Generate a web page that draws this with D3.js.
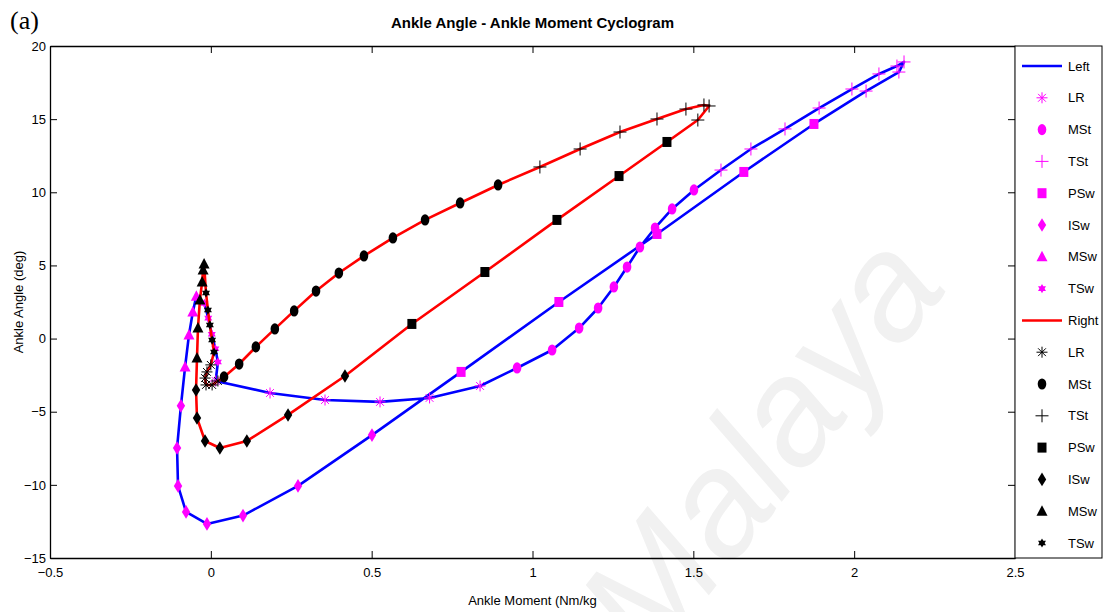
<!DOCTYPE html>
<html>
<head>
<meta charset="utf-8">
<script src="https://cdn.jsdelivr.net/npm/d3@7/dist/d3.min.js"></script>
<style>
  body { margin: 0; background: #fff; }
  text { font-family: "Liberation Sans Narrow", "Arial Narrow", "Liberation Sans", Arial, sans-serif; }
</style>
</head>
<body>
<svg id="chart" width="1105" height="612"></svg>
<script>
// gait phases, in cycle order
var phases = ['LR', 'MSt', 'TSt', 'PSw', 'ISw', 'MSw', 'TSw']

// left side: [moment (Nm/kg), angle (deg)]
var leftLR  = [[0.015, -2.9], [0.184, -3.72], [0.355, -4.2], [0.526, -4.33], [0.68, -4.06], [0.837, -3.24]]
var leftMSt = [[0.952, -2.01], [1.061, -0.78], [1.145, 0.72], [1.204, 2.09], [1.253, 3.53], [1.294, 4.89], [1.334, 6.26], [1.381, 7.56], [1.434, 8.86], [1.502, 10.16]]
var leftTSt = [[1.586, 11.52], [1.679, 12.96], [1.785, 14.33], [1.891, 15.76], [1.993, 17.06], [2.077, 18.09], [2.133, 18.63], [2.155, 18.91], [2.139, 18.22], [2.037, 16.92]]
var leftPSw = [[1.875, 14.67], [1.657, 11.39], [1.387, 7.15], [1.082, 2.5], [0.778, -2.28]]
var leftISw = [[0.501, -6.6], [0.271, -10.07], [0.10, -12.1], [-0.012, -12.67], [-0.077, -11.85], [-0.102, -10.07], [-0.105, -7.48], [-0.093, -4.6]]
var leftMSw = [[-0.08, -1.94], [-0.068, 0.25], [-0.056, 1.82], [-0.045, 2.9]]
var leftTSw = [[-0.02, 2.4], [-0.008, 1.4], [0.003, 0.3], [0.014, -0.7], [0.022, -1.6]]

// right side
var rightLR  = [[0.0, -1.8], [-0.012, -2.28], [-0.018, -2.7], [-0.015, -3.17], [0.004, -3.17], [0.022, -2.9]]
var rightMSt = [[0.041, -2.62], [0.088, -1.74], [0.140, -0.57], [0.199, 0.66], [0.259, 1.89], [0.327, 3.25], [0.398, 4.48], [0.476, 5.65], [0.566, 6.88], [0.666, 8.11], [0.775, 9.27], [0.893, 10.5]]
var rightTSt = [[1.023, 11.73], [1.148, 12.96], [1.272, 14.12], [1.387, 15.01], [1.477, 15.69], [1.533, 15.97], [1.549, 15.9], [1.514, 14.94]]
var rightPSw = [[1.418, 13.44], [1.269, 11.11], [1.076, 8.11], [0.852, 4.55], [0.625, 1.0]]
var rightISw = [[0.417, -2.56], [0.240, -5.22], [0.112, -7.0], [0.028, -7.48], [-0.018, -7.0], [-0.043, -5.43], [-0.046, -3.52]]
var rightMSw = [[-0.043, -1.33], [-0.040, 0.72], [-0.034, 2.64], [-0.027, 3.87], [-0.024, 4.69], [-0.021, 5.1]]
var rightTSw = [[-0.015, 3.12], [-0.009, 1.95], [-0.003, 0.93], [0.004, -0.1], [0.01, -0.92]]

var xTicks = [-0.5, 0, 0.5, 1, 1.5, 2, 2.5]
var yTicks = [-15, -10, -5, 0, 5, 10, 15, 20]

var leftPhases = [leftLR, leftMSt, leftTSt, leftPSw, leftISw, leftMSw, leftTSw]
var rightPhases = [rightLR, rightMSt, rightTSt, rightPSw, rightISw, rightMSw, rightTSw]
var markerTypes = ['asterisk', 'circle', 'plus', 'square', 'diamond', 'triangle', 'hexagram']

var blue = '#0000ff', red = '#ff0000', magenta = '#ff00ff'

var svg = d3.select('#chart')
var m = {left: 50, right: 90, top: 46, bottom: 54}
var width = 1105 - m.left - m.right
var height = 612 - m.top - m.bottom

// faint watermark behind everything
svg.append('text')
  .attr('transform', 'translate(652,668) rotate(-52)')
  .attr('font-size', 150)
  .attr('font-style', 'italic')
  .attr('fill', '#f1f1f1')
  .style('font-family', '"Liberation Sans", Arial, sans-serif')
  .text('Malaya')

var g = svg.append('g').attr('transform', `translate(${m.left},${m.top})`)

var x = d3.scaleLinear().domain([-0.5, 2.5]).range([0, width])
var y = d3.scaleLinear().domain([-15, 20]).range([height, 0])

function styleAxis(sel){
  sel.selectAll('path').attr('stroke', '#000').attr('stroke-width', 1.3)
  sel.selectAll('line').attr('stroke', '#000')
  sel.selectAll('text').attr('font-size', 13).attr('fill', '#000')
    .style('font-family', '"Liberation Sans Narrow", "Arial Narrow", "Liberation Sans", Arial, sans-serif')
}

g.append('g').attr('transform', `translate(0,${height})`)
  .call(d3.axisBottom(x).tickValues(xTicks).tickSizeInner(-7).tickSizeOuter(0).tickPadding(10).tickFormat(d3.format('')))
  .call(styleAxis)
g.append('g')
  .call(d3.axisTop(x).tickValues(xTicks).tickSizeInner(-7).tickSizeOuter(0).tickFormat(''))
  .call(styleAxis)
g.append('g')
  .call(d3.axisLeft(y).tickValues(yTicks).tickSizeInner(-7).tickSizeOuter(0).tickPadding(4))
  .call(styleAxis)
g.append('g').attr('transform', `translate(${width},0)`)
  .call(d3.axisRight(y).tickValues(yTicks).tickSizeInner(-7).tickSizeOuter(0).tickFormat(''))
  .call(styleAxis)

// marker glyphs, centred on 0,0
function addMarker(sel, type, color){
  if (type == 'circle'){
    sel.append('ellipse').attr('rx', 4.3).attr('ry', 5.6).attr('fill', color)
  } else if (type == 'square'){
    sel.append('rect').attr('x', -4.5).attr('y', -5).attr('width', 9).attr('height', 10).attr('fill', color)
  } else if (type == 'diamond'){
    sel.append('path').attr('d', 'M0,-6.8L4.2,0L0,6.8L-4.2,0Z').attr('fill', color)
  } else if (type == 'triangle'){
    sel.append('path').attr('d', 'M0,-6L5.5,4.5L-5.5,4.5Z').attr('fill', color)
  } else if (type == 'hexagram'){
    var r = 4.6
    var t1 = d3.range(3).map(i => [r * Math.sin(i * 2 * Math.PI / 3), -r * Math.cos(i * 2 * Math.PI / 3)])
    var t2 = t1.map(p => [-p[0], -p[1]])
    sel.append('path').attr('d', 'M' + t1.join('L') + 'ZM' + t2.join('L') + 'Z').attr('fill', color)
  } else if (type == 'plus'){
    sel.append('path').attr('d', 'M-6.5,0H6.5M0,-6.5V6.5')
      .attr('stroke', color).attr('stroke-width', 1).attr('fill', 'none')
  } else if (type == 'asterisk'){
    var a = 5.5, b = 3.9
    sel.append('path').attr('d', `M${-a},0H${a}M0,${-a}V${a}M${-b},${-b}L${b},${b}M${-b},${b}L${b},${-b}`)
      .attr('stroke', color).attr('stroke-width', 1).attr('fill', 'none')
  }
}

var line = d3.line().x(d => x(d[0])).y(d => y(d[1]))

function drawSide(phaseList, lineColor, markColor){
  var pts = phaseList.flat()
  g.append('path')
    .attr('d', line(pts.concat([pts[0]])))
    .attr('fill', 'none')
    .attr('stroke', lineColor)
    .attr('stroke-width', 2.6)
    .attr('stroke-linejoin', 'round')

  phaseList.forEach((arr, i) => {
    arr.forEach(d => {
      var mg = g.append('g').attr('transform', `translate(${x(d[0])},${y(d[1])})`)
      addMarker(mg, markerTypes[i], markColor)
    })
  })
}

drawSide(leftPhases, blue, magenta)
drawSide(rightPhases, red, '#000')

// legend box on the right edge of the axes
var lg = svg.append('g').attr('transform', `translate(${m.left + width},${m.top})`)
lg.append('rect')
  .attr('width', 87).attr('height', height)
  .attr('fill', '#fff').attr('stroke', '#000').attr('stroke-width', 1)

var legendItems = [{label: 'Left', line: blue}]
  .concat(phases.map((p, i) => ({label: p, marker: markerTypes[i], color: magenta})))
  .concat([{label: 'Right', line: red}])
  .concat(phases.map((p, i) => ({label: p, marker: markerTypes[i], color: '#000'})))

legendItems.forEach((d, i) => {
  var row = lg.append('g').attr('transform', `translate(0,${20 + i * 31.8})`)
  if (d.line){
    row.append('line').attr('x1', 7).attr('x2', 47)
      .attr('stroke', d.line).attr('stroke-width', 2.5)
  } else {
    addMarker(row.append('g').attr('transform', 'translate(27,0)'), d.marker, d.color)
  }
  row.append('text').attr('x', 53).attr('dy', '0.35em')
    .attr('font-size', 13).text(d.label)
})

// titles
svg.append('text')
  .attr('x', 10).attr('y', 29)
  .attr('font-size', 26)
  .style('font-family', '"Liberation Serif", "Times New Roman", serif')
  .text('(a)')

svg.append('text')
  .attr('x', m.left + width / 2).attr('y', 28)
  .attr('text-anchor', 'middle')
  .attr('font-size', 15).attr('font-weight', 'bold')
  .text('Ankle Angle - Ankle Moment Cyclogram')

svg.append('text')
  .attr('x', m.left + width / 2).attr('y', 605)
  .attr('text-anchor', 'middle')
  .attr('font-size', 13)
  .text('Ankle Moment (Nm/kg')

svg.append('text')
  .attr('transform', `translate(23,${m.top + height / 2}) rotate(-90)`)
  .attr('text-anchor', 'middle')
  .attr('font-size', 13)
  .style('font-family', '"Liberation Sans", Arial, sans-serif')
  .text('Ankle Angle (deg)')
</script>
</body>
</html>
